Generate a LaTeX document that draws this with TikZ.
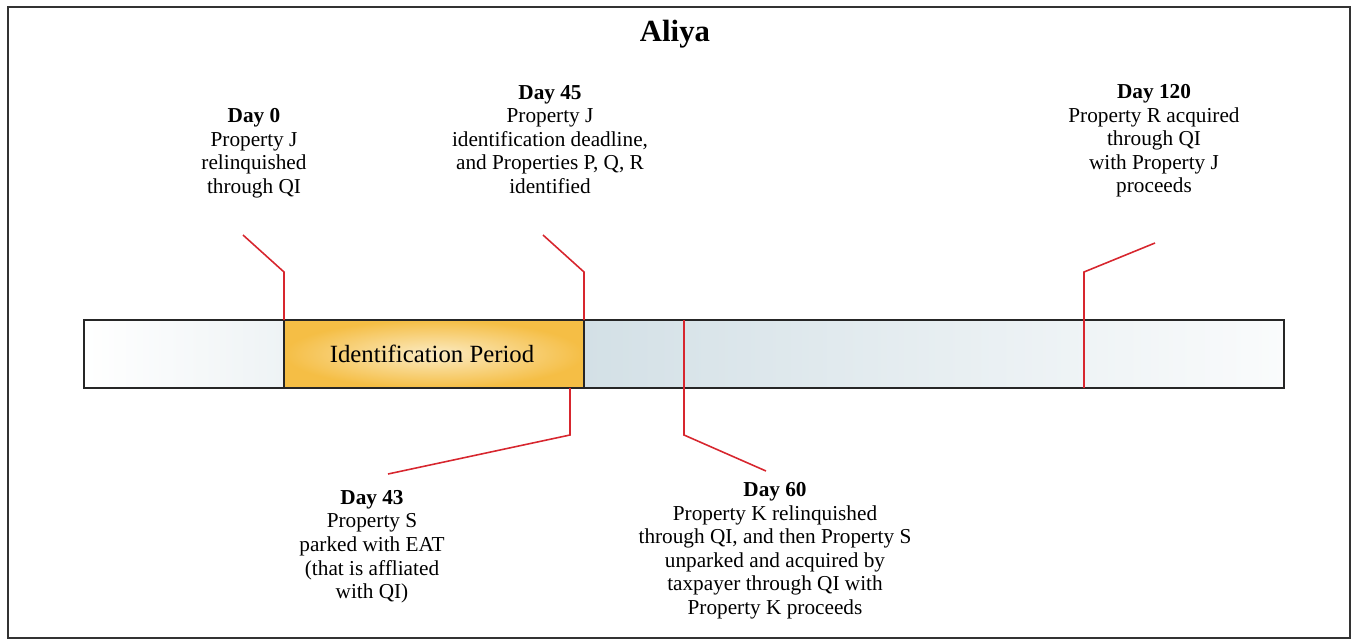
\documentclass[tikz,border=0pt]{standalone}
\usepackage{fontspec}
\setmainfont{Liberation Serif}
\usepackage{tikz}

\definecolor{frame}{HTML}{333333}
\definecolor{callred}{HTML}{D7262E}
\definecolor{idedge}{HTML}{F5BE45}
\definecolor{idmid}{HTML}{FBEBC3}
\definecolor{barblue}{HTML}{D3E0E6}
\definecolor{barpale}{HTML}{EEF3F5}

\tikzset{
  daytext/.style={align=center, inner sep=0pt, anchor=north, font=\fontsize{12.1}{13.4}\selectfont},
  callout/.style={callred, line width=0.9pt},
}

\begin{document}
\begin{tikzpicture}[x=0.02cm, y=-0.02cm]
 \useasboundingbox (0,0) rectangle (1353,640);
 \draw[frame, line width=1.6pt] (8,7) rectangle (1350,638);
 \node (title) at (675,34) {\fontsize{17.5}{20}\selectfont\bfseries Aliya};

 % the bar
 \shade[left color=white, right color=barpale] (84,320) rectangle (284,388);
 \shade[left color=barblue, right color=white!70!barpale] (584,320) rectangle (1284,388);
 \shade[shading=radial, inner color=idmid, outer color=idedge] (284,320) rectangle (584,388);
 \node (idp) at (432,354) {\fontsize{14.1}{16}\selectfont Identification Period};
 \draw[black!85, line width=0.9pt] (284,320) rectangle (584,388);
 \draw[black!85, line width=1.1pt] (84,320) rectangle (1284,388);

 % labels
 \node[daytext] (d0) at (254,108) {\textbf{Day 0}\\Property J\\relinquished\\through QI};
 \node[daytext] (d45) at (550,85) {\textbf{Day 45}\\Property J\\identification deadline,\\and Properties P, Q, R\\identified};
 \node[daytext] (d120) at (1154,84) {\textbf{Day 120}\\Property R acquired\\through QI\\with Property J\\proceeds};
 \node[daytext] (d43) at (372,490) {\textbf{Day 43}\\Property S\\parked with EAT\\(that is affliated\\with QI)};
 \node[daytext] (d60) at (775,482) {\textbf{Day 60}\\Property K relinquished\\through QI, and then Property S\\unparked and acquired by\\taxpayer through QI with\\Property K proceeds};

 % callouts
 \coordinate (c0) at (243,235);
 \coordinate (c45) at (543,235);
 \coordinate (c120) at (1155,243);
 \coordinate (c43) at (388,474);
 \coordinate (c60) at (766,471);
 \draw[callout] (c0) -- (284,272) -- (284,320);
 \draw[callout] (c45) -- (584,272) -- (584,320);
 \draw[callout] (c120) -- (1084,272) -- (1084,388);
 \draw[callout] (570,388) -- (570,435) -- (c43);
 \draw[callout] (684,320) -- (684,435) -- (c60);
\end{tikzpicture}
\end{document}
